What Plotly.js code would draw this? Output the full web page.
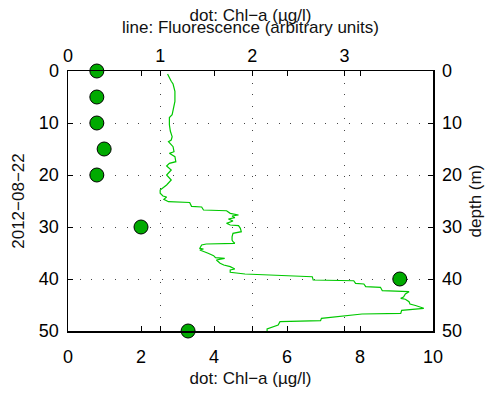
<!DOCTYPE html>
<html>
<head>
<meta charset="utf-8">
<script src="https://cdn.plot.ly/plotly-3.0.1.min.js"></script>
<style>
  html, body { margin: 0; padding: 0; background: #fff; }
  #chart { width: 491px; height: 394px; }
</style>
</head>
<body>
<div id="chart"></div>
<script>
// Bottle samples: chlorophyll-a at discrete depths
const chlDepth = [0, 5, 10, 15, 20, 30, 40, 50];
const chlValue = [0.79, 0.79, 0.79, 0.99, 0.79, 2.0, 9.09, 3.29];

// Fluorescence profile (arbitrary units) against depth
const fluoDepth = [
  0.58, 1.35, 1.98, 2.5, 3.9, 5.83, 7.75, 8.4, 8.94, 10.33,
  11.54, 12.63, 13.27, 13.6, 14.56, 15.52, 15.83, 16.48, 17.44, 17.75,
  18.27, 19.04, 20.0, 20.96, 21.92, 22.88, 23.52, 24.04, 24.23, 24.67,
  25.13, 25.29, 26.02, 26.15, 26.73, 26.87, 27.37, 27.69, 27.88, 28.21,
  28.46, 28.85, 29.29, 29.62, 29.75, 30.25, 30.9, 31.21, 31.87, 32.5,
  32.83, 33.13, 33.27, 33.46, 34.1, 34.23, 34.42, 34.75, 35.06, 35.52,
  35.9, 36.02, 36.35, 36.98, 37.31, 37.63, 38.08, 38.27, 38.71, 39.04,
  39.56, 40.19, 40.33, 40.83, 40.96, 41.48, 41.6, 42.25, 42.44, 42.88,
  43.46, 43.71, 43.9, 44.37, 44.81, 45.1, 45.63, 46.02, 46.6, 46.73,
  47.56, 48.02, 48.21, 48.85, 49.17, 49.62, 50.0
];
const fluoValue = [
  1.08, 1.10, 1.12, 1.14, 1.16, 1.16, 1.14, 1.13, 1.10, 1.10,
  1.11, 1.13, 1.12, 1.09, 1.14, 1.15, 1.10, 1.16, 1.17, 1.10,
  1.07, 1.12, 1.07, 1.12, 1.07, 1.00, 1.00, 1.03, 1.07, 1.04,
  1.09, 1.32, 1.34, 1.45, 1.47, 1.72, 1.76, 1.85, 1.78, 1.81,
  1.74, 1.79, 1.72, 1.76, 1.85, 1.87, 1.88, 1.79, 1.78, 1.78,
  1.79, 1.81, 1.50, 1.45, 1.43, 1.47, 1.43, 1.49, 1.52, 1.58,
  1.60, 1.70, 1.61, 1.65, 1.69, 1.76, 1.81, 1.76, 1.76, 1.92,
  2.65, 2.66, 3.10, 3.12, 3.21, 3.23, 3.39, 3.41, 3.70, 3.66,
  3.64, 3.61, 3.66, 3.70, 3.71, 3.77, 3.86, 3.62, 3.61, 3.19,
  2.75, 2.74, 2.30, 2.28, 2.23, 2.16, 2.16
];

// Axis tick values
const chlTicks = [0, 2, 4, 6, 8, 10];
const fluoTicks = [0, 1, 2, 3];
const depthTicks = [0, 10, 20, 30, 40, 50];

const FONT = 'Liberation Sans, Arial, Helvetica, sans-serif';
const tickFont = { family: FONT, size: 18, color: '#000' };
const titleFont = { family: FONT, size: 17, color: '#111' };

const frame = {
  showline: true, linecolor: '#000', linewidth: 1.5,
  ticks: 'inside', ticklen: 5, tickwidth: 1, tickcolor: '#000',
  mirror: 'ticks', zeroline: false, tickfont: tickFont, fixedrange: true
};

const traces = [
  {
    x: fluoValue, y: fluoDepth, xaxis: 'x2', yaxis: 'y2',
    type: 'scatter', mode: 'lines',
    line: { color: 'rgb(0,200,0)', width: 1.2 },
    hoverinfo: 'skip', showlegend: false
  },
  {
    x: chlValue, y: chlDepth, xaxis: 'x', yaxis: 'y',
    type: 'scatter', mode: 'markers', cliponaxis: false,
    marker: { size: 14, color: 'rgb(0,170,0)', line: { color: '#000', width: 1 } },
    showlegend: false
  }
];

const layout = {
  width: 491, height: 394,
  margin: { l: 68, r: 58, t: 71, b: 63 },
  paper_bgcolor: '#fff', plot_bgcolor: '#fff',
  showlegend: false,
  title: {
    text: 'dot: Chl\u2212a (\u00b5g/l)', font: titleFont,
    x: 0.5, xref: 'paper', xanchor: 'center',
    y: 1 - 15 / 394, yref: 'container', yanchor: 'middle'
  },
  xaxis: Object.assign({}, frame, {
    range: [0, 10], tickvals: chlTicks, ticktext: chlTicks.map(String),
    showgrid: false, side: 'bottom', ticklabelstandoff: 9,
    title: { text: 'dot: Chl\u2212a (\u00b5g/l)', font: titleFont, standoff: 6 }
  }),
  xaxis2: Object.assign({}, frame, {
    range: [0, 3.96], tickvals: fluoTicks, ticktext: fluoTicks.map(String),
    overlaying: 'x', side: 'top', anchor: 'y2',
    showgrid: true, gridcolor: '#444', gridwidth: 1, griddash: '1px,10.7px',
    title: { text: 'line: Fluorescence (arbitrary units)', font: titleFont, standoff: 8 }
  }),
  yaxis: Object.assign({}, frame, {
    range: [50, 0], tickvals: depthTicks, ticktext: depthTicks.map(String),
    side: 'left', ticklabelstandoff: 4,
    showgrid: true, gridcolor: '#444', gridwidth: 1, griddash: '1px,10.7px',
    title: { text: '2012\u221208\u221222', font: titleFont, standoff: 10 }
  }),
  yaxis2: Object.assign({}, frame, {
    range: [50, 0], tickvals: depthTicks, ticktext: depthTicks.map(String),
    overlaying: 'y', side: 'right', anchor: 'x2', ticklabelstandoff: 4,
    showgrid: false,
    title: { text: 'depth (m)', font: titleFont, standoff: 8 }
  })
};

Plotly.newPlot('chart', traces, layout, { staticPlot: true, displayModeBar: false });
</script>
</body>
</html>
